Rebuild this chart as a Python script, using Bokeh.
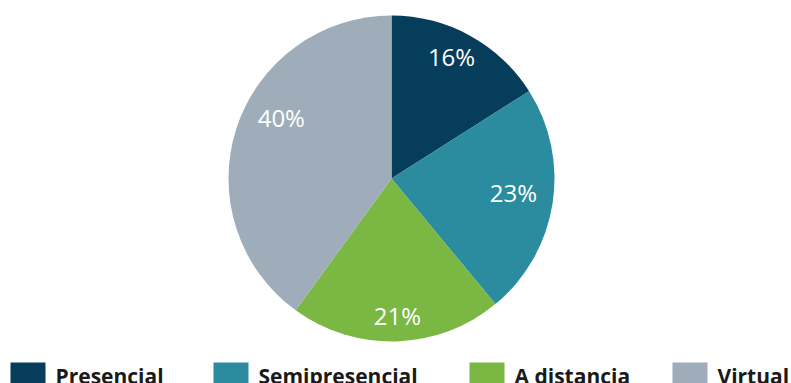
import math
from bokeh.plotting import figure
from bokeh.models import ColumnDataSource
from bokeh.core.properties import value
from bokeh.embed import file_html
from bokeh.resources import INLINE

categories = ["Presencial", "Semipresencial", "A distancia", "Virtual"]
shares = [16, 23, 21, 40]
colors = ["#063d5b", "#2b8ca0", "#7ab743", "#9facba"]
# label placement (style): radial factor and clockwise angle shift in degrees
label_radius = [0.834, 0.753, 0.84, 0.773]
label_shift = [-2.6, -2.5, -0.7, 11.0]

W, H = 791, 383
CX, CY, R = 391, H - 178, 163

p = figure(width=W, height=H, x_range=(0, W), y_range=(0, H),
           output_backend="svg", toolbar_location=None, min_border=0)
p.axis.visible = False
p.grid.visible = False
p.outline_line_color = None
p.background_fill_color = "white"
p.border_fill_color = "white"

total = sum(shares)
starts, ends, lx, ly, labels = [], [], [], [], []
cum = 0.0
for s, lr, sh in zip(shares, label_radius, label_shift):
    a0 = math.pi / 2 - 2 * math.pi * cum / total
    cum += s
    a1 = math.pi / 2 - 2 * math.pi * cum / total
    starts.append(a1)
    ends.append(a0)
    mid = (a0 + a1) / 2 - math.radians(sh)
    lx.append(CX + lr * R * math.cos(mid))
    ly.append(CY + lr * R * math.sin(mid))
    labels.append(f"{s}%")

src = ColumnDataSource(dict(start=starts, end=ends, color=colors,
                            lx=lx, ly=ly, label=labels, cat=categories))
p.wedge(x=CX, y=CY, radius=R, start_angle="start", end_angle="end",
        fill_color="color", line_color=None, source=src)
p.text(x="lx", y="ly", text="label", source=src, text_color="white",
       text_font=value("Open Sans"), text_font_size="24px",
       text_align="center", text_baseline="middle")

# legend
leg_x = [10, 213, 469, 672]
sq = 35
p.rect(x=[x + sq / 2 for x in leg_x], y=[H - 362 - sq / 2] * 4, width=sq, height=sq,
       fill_color=colors, line_color=None)
p.text(x=[x + sq + 10 for x in leg_x], y=[8] * 4, text=categories,
       text_font=value("Open Sans"), text_font_style="bold", text_font_size="21px",
       text_color="#1a1a1a", text_align="left", text_baseline="alphabetic")

open("out.html", "w").write(file_html(p, INLINE))
